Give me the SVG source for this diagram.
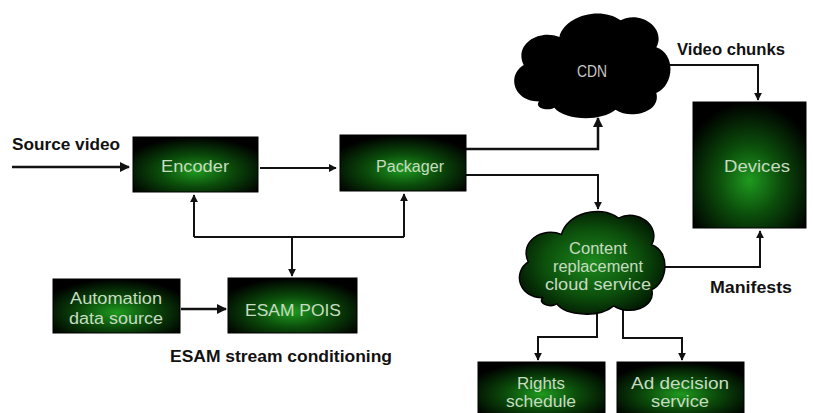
<svg xmlns="http://www.w3.org/2000/svg" width="813" height="413" viewBox="0 0 813 413">
<style>
.lbl{font-family:"Liberation Sans",Arial,sans-serif;font-weight:bold;font-size:16px;fill:#111}
.nt{font-family:"Liberation Sans",Arial,sans-serif;font-size:16px;fill:#c6dcc0;text-anchor:middle}
.box{fill:url(#g);stroke:#000;stroke-width:1}
.ln{fill:none;stroke:#111;stroke-width:2}
.ln2{fill:none;stroke:#111;stroke-width:2.5}
</style>
<defs>
<radialGradient id="g" cx="50%" cy="62%" r="62%">
<stop offset="0" stop-color="#1f9a1f"/>
<stop offset="0.45" stop-color="#0b4d0b"/>
<stop offset="1" stop-color="#000"/>
</radialGradient>
<radialGradient id="gc" cx="50%" cy="50%" r="55%">
<stop offset="0" stop-color="#1d8a1d"/>
<stop offset="0.6" stop-color="#0c4f0c"/>
<stop offset="1" stop-color="#021802"/>
</radialGradient>
<path id="cloud" d="M -50,36 C -75,36 -82,11 -65,1 C -75,-19 -50,-34 -30,-26 C -25,-46 10,-56 30,-42 C 50,-52 75,-34 65,-16 C 85,-9 82,21 65,28 C 70,46 40,54 25,44 C 10,56 -25,54 -35,42 C -42,46 -55,42 -50,36 Z"/>
<marker id="a" viewBox="0 0 10 10" refX="9" refY="5" markerWidth="4" markerHeight="4" orient="auto" markerUnits="strokeWidth">
<path d="M0,0 L10,5 L0,10 Z" fill="#111"/>
</marker>
</defs>
<rect width="813" height="413" fill="#fff"/>

<g id="connectors">
<path class="ln2" d="M12,167 H129" marker-end="url(#a)"/>
<path class="ln" d="M260,168 H336" marker-end="url(#a)"/>
<path class="ln" d="M194,237 H404"/>
<path class="ln" d="M194,237 V195" marker-end="url(#a)"/>
<path class="ln" d="M404,237 V194" marker-end="url(#a)"/>
<path class="ln" d="M292,237 V276" marker-end="url(#a)"/>
<path class="ln2" d="M181,309 H226" marker-end="url(#a)"/>
<path class="ln2" d="M466,149 H598 V118" marker-end="url(#a)"/>
<path class="ln" d="M466,175 H598 V209" marker-end="url(#a)"/>
<path class="ln" d="M664,65 H758 V100" marker-end="url(#a)"/>
<path class="ln" d="M655,267 H760 V231" marker-end="url(#a)"/>
<path class="ln" d="M597,308 V337 H538 V360" marker-end="url(#a)"/>
<path class="ln" d="M623,308 V338 H682 V360" marker-end="url(#a)"/>
</g>

<text class="lbl" x="12" y="150" textLength="108" lengthAdjust="spacingAndGlyphs">Source video</text>
<text class="lbl" x="677" y="55" textLength="108" lengthAdjust="spacingAndGlyphs">Video chunks</text>
<text class="lbl" x="710" y="293" textLength="82" lengthAdjust="spacingAndGlyphs">Manifests</text>
<text class="lbl" x="170" y="362" textLength="222" lengthAdjust="spacingAndGlyphs">ESAM stream conditioning</text>

<g id="encoder">
<rect class="box" x="133" y="137" width="125" height="55"/>
<text class="nt" x="195" y="172" textLength="68" lengthAdjust="spacingAndGlyphs">Encoder</text>
</g>
<g id="packager">
<rect class="box" x="340" y="135" width="126" height="56"/>
<text class="nt" x="410" y="172" textLength="68" lengthAdjust="spacingAndGlyphs">Packager</text>
</g>
<g id="automation">
<rect class="box" x="53" y="279" width="127" height="54"/>
<text class="nt" x="116" y="304" textLength="92" lengthAdjust="spacingAndGlyphs">Automation</text>
<text class="nt" x="116" y="324" textLength="94" lengthAdjust="spacingAndGlyphs">data source</text>
</g>
<g id="esam">
<rect class="box" x="228" y="278" width="129" height="55"/>
<text class="nt" x="293" y="316" font-size="18" textLength="96" lengthAdjust="spacingAndGlyphs">ESAM POIS</text>
</g>
<g id="cdn">
<use href="#cloud" transform="translate(590,64) scale(1.02,1.04)" fill="#000"/>
<text class="nt" x="592" y="77" fill="#c8c8c8" style="fill:#c8c8c8" textLength="30" lengthAdjust="spacingAndGlyphs">CDN</text>
</g>
<g id="devices">
<rect class="box" x="693" y="102" width="113" height="126"/>
<text class="nt" x="757" y="172" textLength="66" lengthAdjust="spacingAndGlyphs">Devices</text>
</g>
<g id="content">
<use href="#cloud" transform="translate(590,261) scale(0.95,1.02)" fill="url(#gc)" stroke="#000" stroke-width="1.5"/>
<text class="nt" x="598" y="254" textLength="58" lengthAdjust="spacingAndGlyphs">Content</text>
<text class="nt" x="598" y="272" textLength="90" lengthAdjust="spacingAndGlyphs">replacement</text>
<text class="nt" x="598" y="290" textLength="106" lengthAdjust="spacingAndGlyphs">cloud service</text>
</g>
<g id="rights">
<rect class="box" x="478" y="362" width="127" height="52"/>
<text class="nt" x="541" y="389" textLength="48" lengthAdjust="spacingAndGlyphs">Rights</text>
<text class="nt" x="541" y="407" textLength="70" lengthAdjust="spacingAndGlyphs">schedule</text>
</g>
<g id="ad">
<rect class="box" x="617" y="362" width="127" height="52"/>
<text class="nt" x="680" y="389" textLength="98" lengthAdjust="spacingAndGlyphs">Ad decision</text>
<text class="nt" x="680" y="407" textLength="58" lengthAdjust="spacingAndGlyphs">service</text>
</g>
</svg>
